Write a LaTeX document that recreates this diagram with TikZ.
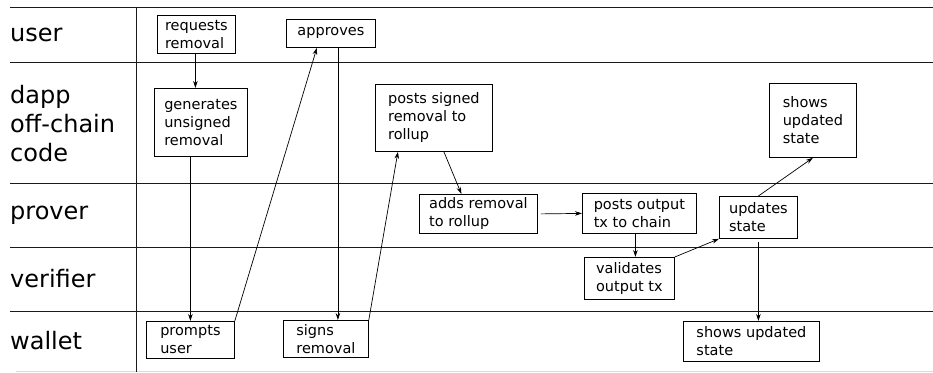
\documentclass[tikz,border=0pt]{standalone}
\usepackage{fontspec}
\setmainfont{DejaVu Sans}
\usetikzlibrary{arrows.meta, positioning, calc}
\definecolor{laneLine}{HTML}{1A1A1A}
\definecolor{laneEnd}{HTML}{D9D9D9}
\tikzset{
  flow/.style={-{Stealth[length=7pt, width=4.5pt]}, line width=0.7pt},
  laneline/.style={draw=laneLine, line width=0.8pt},
  lane/.style={anchor=west, align=left, inner sep=0pt,
               font=\fontsize{24}{29}\selectfont},
  stepbox/.style={rectangle, draw, line width=0.8pt, anchor=north west,
                  align=left, inner sep=0pt,
                  font=\fontsize{14.5}{18}\selectfont},
}

\begin{document}
\begin{tikzpicture}[x=1pt, y=-1pt]
    \useasboundingbox (0,0) rectangle (933,372);
    % swimlanes
    \foreach \y in {7,62,183,247,311}
      \draw[laneline] (10,\y) -- (933,\y);
    \draw[draw=laneEnd, line width=0.8pt] (16,371) -- (933,371);
    \draw[laneline] (136,7) -- (136,372);
    \node[lane] (lUser) at (10,34.5) {user};
    \node[lane] (lDapp) at (10,124) {dapp\\off-chain\\code};
    \node[lane] (lProver) at (10,215) {prover};
    \node[lane] (lVerifier) at (10,279) {verifier};
    \node[lane] (lWallet) at (10,341) {wallet};
    % steps
    \node[stepbox, minimum width=78, minimum height=38] (req) at (157,15) {requests\\removal};
    \node[stepbox, minimum width=89, minimum height=28] (apr) at (286,19) {approves};
    \node[stepbox, minimum width=93, minimum height=68] (gen) at (154,88) {generates\\unsigned\\removal};
    \node[stepbox, minimum width=117, minimum height=67] (pss) at (375,84) {posts signed\\removal to\\rollup};
    \node[stepbox, minimum width=87, minimum height=74] (shd) at (769,83) {shows\\updated\\state};
    \node[stepbox, minimum width=118, minimum height=39] (add) at (419,194) {adds removal\\to rollup};
    \node[stepbox, minimum width=114, minimum height=40] (pot) at (582,193) {posts output\\tx to chain};
    \node[stepbox, minimum width=78, minimum height=42] (upd) at (719,196) {updates\\state};
    \node[stepbox, minimum width=90, minimum height=42] (val) at (584,257) {validates\\output tx};
    \node[stepbox, minimum width=88, minimum height=37] (prm) at (146,321) {prompts\\user};
    \node[stepbox, minimum width=85, minimum height=37] (sgn) at (283,320) {signs\\removal};
    \node[stepbox, minimum width=136, minimum height=40] (shw) at (683,321) {shows updated\\state};
    % flow
    \draw[flow] ([xshift=-1]req.south) -- ([xshift=-1]req.south |- gen.north);
    \draw[flow] (prm.north |- gen.south) -- (prm.north);
    \draw (prm.north east) edge[flow] ([xshift=-14]apr.south);
    \draw[flow] ([xshift=7]apr.south) -- ([xshift=7]apr.south |- sgn.north);
    \draw (sgn.north east) edge[flow] ([xshift=-36]pss.south);
    \draw[flow] ([xshift=10]pss.south) -- ([xshift=-17]add.north);
    \draw[flow] ([xshift=3]add.east) -- (pot.west);
    \draw[flow] ([xshift=-4]pot.south) -- ([xshift=-4]pot.south |- val.north);
    \draw[flow] (val.north east) -- (upd.south west);
    \draw[flow] (upd.north) -- (shd.south);
    \draw[flow] ([yshift=-3]upd.south) -- (upd.south |- shw.north);
  \end{tikzpicture}
\end{document}
